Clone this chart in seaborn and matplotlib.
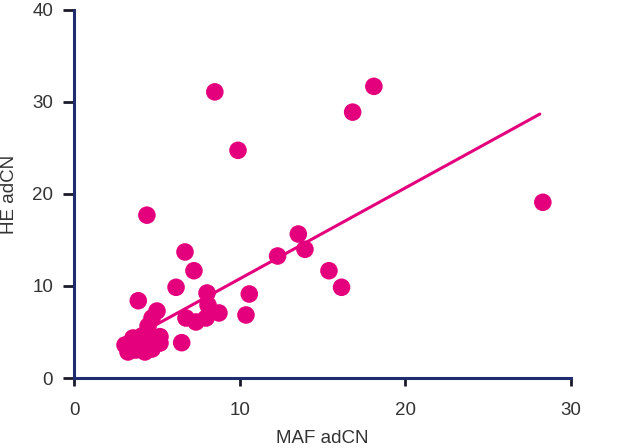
import matplotlib
matplotlib.use("Agg")
import matplotlib.pyplot as plt
import seaborn as sns
import pandas as pd

# Data
maf_adcn = [8.5, 9.9, 4.4, 6.7, 16.82, 18.1, 28.3, 13.54, 13.94, 12.29, 15.39, 16.15,
            10.58, 10.38, 7.24, 6.16, 3.88, 6.5, 8.03, 8.09, 8.75, 6.76, 7.36, 7.97,
            3.08, 3.26, 3.74, 4.28, 4.71, 5.19, 3.56, 4.10, 4.59, 3.98, 4.47, 4.71,
            5.01, 5.19]
he_adcn = [31.1, 24.75, 17.7, 13.7, 28.9, 31.7, 19.1, 15.65, 13.99, 13.26, 11.66, 9.86,
           9.13, 6.85, 11.66, 9.86, 8.4, 3.84, 9.24, 7.93, 7.07, 6.52, 6.09, 6.52,
           3.59, 2.83, 3.04, 2.83, 3.15, 3.80, 4.35, 4.57, 4.13, 3.70, 5.65, 6.52,
           7.28, 4.49]

trend_x = [3.0, 28.12]
trend_y = [3.86, 28.69]

x_ticks = [0, 10, 20, 30]
y_ticks = [0, 10, 20, 30, 40]

df = pd.DataFrame({"MAF adCN": maf_adcn, "HE adCN": he_adcn})
trend = pd.DataFrame({"x": trend_x, "y": trend_y})

sns.set_style("white")
plt.rcParams["font.family"] = ["Liberation Sans", "DejaVu Sans"]

pink = "#E4007C"
navy = "#1F2D6E"

fig = plt.figure(figsize=(6.37, 4.48), dpi=100)
ax = fig.add_axes([74 / 637, 70 / 448, 497 / 637, 368 / 448])

sns.lineplot(data=trend, x="x", y="y", ax=ax, color=pink, linewidth=2.2, zorder=2)
sns.scatterplot(data=df, x="MAF adCN", y="HE adCN", ax=ax, color=pink, s=160,
                edgecolor="none", linewidth=0, zorder=3)

ax.set_xlim(0, 30)
ax.set_ylim(0, 40)
ax.set_xticks(x_ticks)
ax.set_yticks(y_ticks)
ax.set_xticklabels([str(t) for t in x_ticks])
ax.set_yticklabels([str(t) for t in y_ticks])

for side in ["top", "right"]:
    ax.spines[side].set_visible(False)
for side in ["left", "bottom"]:
    ax.spines[side].set_color(navy)
    ax.spines[side].set_linewidth(2.2)
    ax.spines[side].set_zorder(4)

ax.tick_params(axis="y", direction="out", length=8, width=2, color="#1a1a2a",
               labelsize=13.5, labelcolor="#333333", pad=7, left=True)
ax.tick_params(axis="x", direction="out", length=6, width=2, color="#1a1a2a",
               labelsize=13.5, labelcolor="#333333", pad=11, bottom=True)

ax.set_xlabel("MAF adCN", fontsize=13.5, color="#333333", labelpad=8)
ax.set_ylabel("HE adCN", fontsize=13.5, color="#333333", labelpad=10)

fig.savefig("out.png", dpi=100, facecolor="white")
